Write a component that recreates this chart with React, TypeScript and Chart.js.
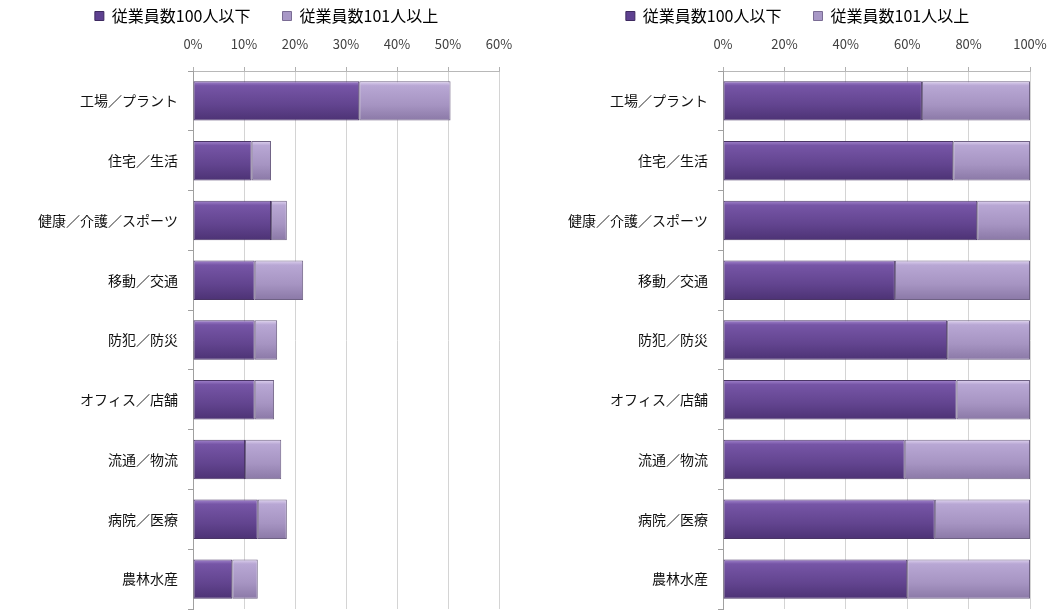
import React, { useEffect, useRef } from "react";
import { Chart, registerables } from "chart.js";

Chart.register(...registerables);

const categories = [
  "工場／プラント",
  "住宅／生活",
  "健康／介護／スポーツ",
  "移動／交通",
  "防犯／防災",
  "オフィス／店舗",
  "流通／物流",
  "病院／医療",
  "農林水産",
];

const seriesNames = ["従業員数100人以下", "従業員数101人以上"];

// Left chart: share of respondents (%)
const leftSmall = [32.6, 11.5, 15.3, 12.1, 12.1, 12.1, 10.2, 12.7, 7.7];
const leftLarge = [17.9, 3.8, 3.1, 9.5, 4.4, 3.8, 7.1, 5.7, 5.0];
const leftTicks = [0, 10, 20, 30, 40, 50, 60];

// Right chart: composition (100% stacked)
const rightSmall = [64.8, 75.0, 82.8, 56.0, 73.0, 76.1, 59.2, 69.0, 60.0];
const rightLarge = [35.2, 25.0, 17.2, 44.0, 27.0, 23.9, 40.8, 31.0, 40.0];
const rightTicks = [0, 20, 40, 60, 80, 100];

const FONT = "'Noto Sans CJK JP', 'Noto Sans', sans-serif";

const darkStops = ["#a688d0", "#7655a6", "#62448f", "#4c3274"];
const lightStops = ["#e2d6f2", "#b8a7d4", "#a694c2", "#8a78a6"];

function gradientFill(stops: string[], flat: string) {
  return (c: any) => {
    const chart = c.chart;
    if (!chart.chartArea || c.type !== "data") return flat;
    const y = chart.scales.y.getPixelForValue(c.dataIndex);
    const h = 20;
    const g = chart.ctx.createLinearGradient(0, y - h, 0, y + h);
    g.addColorStop(0, stops[0]);
    g.addColorStop(0.12, stops[1]);
    g.addColorStop(0.6, stops[2]);
    g.addColorStop(1, stops[3]);
    return g;
  };
}

function makeConfig(
  small: number[],
  large: number[],
  ticks: number[],
  padLeft: number,
  yWidth: number,
  padRight: number
): any {
  const max = ticks[ticks.length - 1];
  const step = ticks[1] - ticks[0];
  return {
    type: "bar",
    data: {
      labels: categories,
      datasets: [
        {
          label: seriesNames[0],
          data: small,
          backgroundColor: gradientFill(darkStops, "#6a4c9a"),
          borderColor: "#4a3566",
          borderWidth: 1,
          borderSkipped: false,
          barPercentage: 0.66,
          categoryPercentage: 1,
        },
        {
          label: seriesNames[1],
          data: large,
          backgroundColor: gradientFill(lightStops, "#ae9ccb"),
          borderColor: "#6f6284",
          borderWidth: 1,
          borderSkipped: false,
          barPercentage: 0.66,
          categoryPercentage: 1,
        },
      ],
    },
    options: {
      indexAxis: "y",
      responsive: false,
      animation: false,
      layout: { padding: { top: -24, right: padRight, bottom: 1, left: padLeft } },
      plugins: {
        tooltip: { enabled: false },
        legend: {
          position: "top",
          labels: {
            boxWidth: 9,
            boxHeight: 9,
            padding: 32,
            color: "#222",
            font: { family: FONT, size: 16 },
            generateLabels: (chart: any) =>
              chart.data.datasets.map((ds: any, i: number) => ({
                text: ds.label,
                fillStyle: i === 0 ? "#5e4190" : "#a898c6",
                strokeStyle: i === 0 ? "#3e2a60" : "#7a6c94",
                lineWidth: 1,
                datasetIndex: i,
              })),
          },
        },
      },
      scales: {
        x: {
          position: "top",
          stacked: true,
          min: 0,
          max,
          afterBuildTicks: (scale: any) => {
            scale.ticks = ticks.map((v) => ({ value: v }));
          },
          afterFit: (scale: any) => {
            scale.height = 37;
            scale.paddingLeft = 0;
            scale.paddingRight = 0;
          },
          ticks: {
            stepSize: step,
            padding: 15,
            color: "#404040",
            font: { family: FONT, size: 13 },
            callback: (v: any) => v + "%",
          },
          grid: {
            color: "#d4d4d4",
            tickLength: 4,
            tickColor: "#b0b0b0",
          },
          border: { color: "#b8b8b8" },
        },
        y: {
          stacked: true,
          afterFit: (scale: any) => {
            scale.width = yWidth;
            scale.paddingTop = 0;
            scale.paddingBottom = 0;
          },
          ticks: {
            padding: 10,
            color: "#111",
            font: { family: FONT, size: 14 },
          },
          grid: {
            drawOnChartArea: false,
            tickLength: 5,
            tickColor: "#a0a0a0",
          },
          border: { color: "#a0a0a0" },
        },
      },
    },
  };
}

function BarChart(props: {
  width: number;
  small: number[];
  large: number[];
  ticks: number[];
  padLeft: number;
  yWidth: number;
  padRight: number;
}) {
  const ref = useRef<HTMLCanvasElement | null>(null);
  useEffect(() => {
    if (!ref.current) return;
    const chart = new Chart(
      ref.current,
      makeConfig(props.small, props.large, props.ticks, props.padLeft, props.yWidth, props.padRight)
    );
    return () => chart.destroy();
  }, []);
  return (
    <canvas
      ref={ref}
      width={props.width}
      height={610}
      style={{ display: "block", width: props.width, height: 610 }}
    />
  );
}

export default function App() {
  return (
    <div
      style={{
        position: "fixed",
        left: 0,
        top: 0,
        width: 1051,
        height: 610,
        display: "flex",
        background: "#ffffff",
      }}
    >
      <BarChart width={525} small={leftSmall} large={leftLarge} ticks={leftTicks} padLeft={34} yWidth={159} padRight={26} />
      <BarChart width={526} small={rightSmall} large={rightLarge} ticks={rightTicks} padLeft={40} yWidth={158} padRight={21} />
    </div>
  );
}
